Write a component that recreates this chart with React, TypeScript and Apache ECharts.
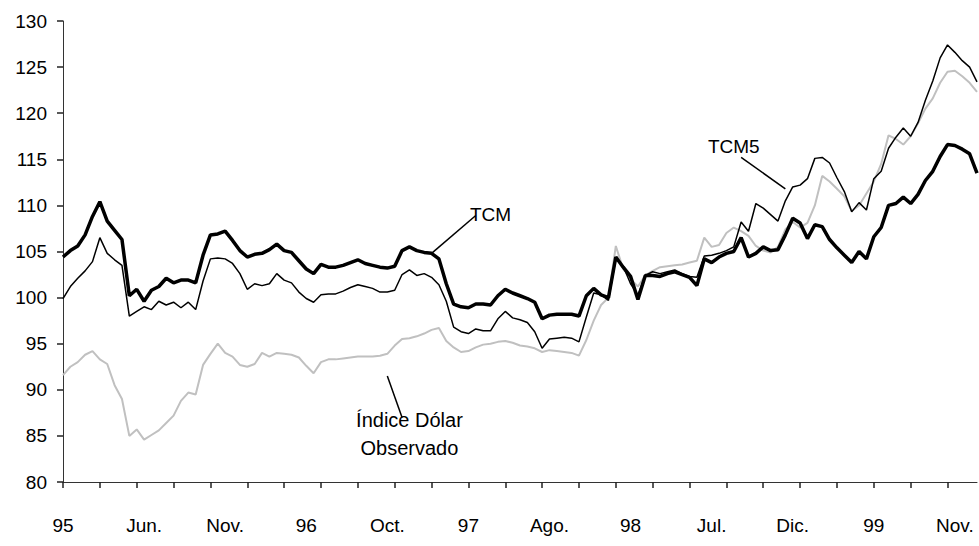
import React, { useEffect, useRef } from "react";
import * as echarts from "echarts";

// x-axis tick labels, one every LABEL_STEP categories
const tickLabels = ["95", "Jun.", "Nov.", "96", "Oct.", "97", "Ago.", "98", "Jul.", "Dic.", "99", "Nov."];
const LABEL_STEP = 11;
const TICK_STEP = 5;

// TCM (thick black)
const tcm = [
  104.4, 105.1, 105.6, 106.8, 108.8, 110.4, 108.3, 107.3, 106.3, 100.2,
  100.9, 99.6, 100.8, 101.2, 102.1, 101.6, 101.9, 101.9, 101.6, 104.6,
  106.8, 106.9, 107.2, 106.2, 105.1, 104.4, 104.7, 104.8, 105.2, 105.8,
  105.1, 104.9, 104.0, 103.1, 102.6, 103.6, 103.3, 103.3, 103.5, 103.8,
  104.1, 103.7, 103.5, 103.3, 103.2, 103.4, 105.1, 105.5, 105.1, 104.9,
  104.8, 104.2, 101.5, 99.3, 99.0, 98.9, 99.3, 99.3, 99.2, 100.2,
  100.9, 100.5, 100.2, 99.9, 99.5, 97.7, 98.1, 98.2, 98.2, 98.2,
  98.0, 100.2, 101.0, 100.3, 100.0, 104.4, 103.3, 102.3, 99.8, 102.4,
  102.4, 102.3, 102.6, 102.8, 102.5, 102.2, 101.3, 104.2, 103.8, 104.4,
  104.8, 105.0, 106.5, 104.4, 104.8, 105.5, 105.1, 105.2, 106.8, 108.6,
  108.1, 106.4, 107.9, 107.7, 106.3, 105.4, 104.6, 103.8, 105.0, 104.2,
  106.6, 107.6, 110.0, 110.2, 110.9, 110.2, 111.2, 112.7, 113.7, 115.3,
  116.6, 116.5, 116.1, 115.6, 113.5,
];

// TCM5 (thin black)
const tcm5 = [
  99.9, 101.2, 102.1, 102.9, 103.9, 106.5, 104.8, 104.1, 103.5, 98.0,
  98.5, 99.0, 98.7, 99.6, 99.2, 99.5, 98.9, 99.5, 98.7, 101.8,
  104.2, 104.3, 104.2, 103.7, 102.6, 100.9, 101.5, 101.3, 101.5, 102.6,
  101.9, 101.6, 100.6, 99.9, 99.5, 100.3, 100.4, 100.4, 100.7, 101.1,
  101.4, 101.2, 101.0, 100.6, 100.6, 100.8, 102.5, 103.0, 102.4, 102.6,
  102.2, 101.4, 99.6, 96.8, 96.3, 96.1, 96.6, 96.4, 96.4, 97.7,
  98.5, 97.8, 97.6, 97.3, 96.3, 94.5, 95.5, 95.6, 95.7, 95.6,
  95.2, 97.9, 100.5, 100.3, 99.7, 104.2, 103.4, 101.5, 100.3, 102.4,
  102.8, 102.6, 102.8, 103.0, 102.6, 102.3, 102.2, 104.5, 104.6, 104.8,
  105.1, 105.5, 108.2, 107.2, 110.2, 109.7, 109.0, 108.3, 110.5, 112.0,
  112.2, 112.9, 115.1, 115.2, 114.6, 113.0, 111.5, 109.3, 110.3, 109.5,
  112.9, 113.7, 116.2, 117.4, 118.4, 117.5, 119.0, 121.4, 123.5, 126.0,
  127.4, 126.6, 125.7, 125.0, 123.4,
];

// Índice Dólar Observado (grey)
const dolar = [
  91.6, 92.5, 93.0, 93.8, 94.2, 93.3, 92.8, 90.5, 89.0, 85.0,
  85.7, 84.6, 85.1, 85.6, 86.4, 87.2, 88.8, 89.7, 89.5, 92.7,
  93.9, 95.0, 94.0, 93.6, 92.7, 92.5, 92.8, 94.0, 93.6, 94.0,
  93.9, 93.8, 93.5, 92.6, 91.8, 93.0, 93.3, 93.3, 93.4, 93.5,
  93.6, 93.6, 93.6, 93.7, 93.9, 94.8, 95.5, 95.6, 95.8, 96.1,
  96.5, 96.7, 95.3, 94.6, 94.1, 94.2, 94.6, 94.9, 95.0, 95.2,
  95.3, 95.1, 94.8, 94.7, 94.5, 94.1, 94.3, 94.2, 94.1, 94.0,
  93.7, 95.4, 97.5, 99.2, 100.0, 105.6, 103.1, 102.0, 101.2, 102.4,
  102.9, 103.3, 103.4, 103.5, 103.6, 103.8, 104.0, 106.5, 105.5, 105.7,
  107.0, 107.6, 107.2, 106.7, 105.6, 105.1, 104.9, 105.5, 107.4, 108.2,
  107.6, 108.1, 110.0, 113.2, 112.6, 111.8, 111.0, 109.4, 110.0, 111.3,
  112.6, 114.5, 117.6, 117.2, 116.6, 117.5, 118.9, 120.5, 121.6, 123.3,
  124.5, 124.6, 124.0, 123.3, 122.3,
];

const categories = tcm.map((_, i) => String(i));

const FONT = "'Liberation Sans', Arial, Helvetica, sans-serif";

export default function App() {
  const ref = useRef<HTMLDivElement>(null);

  useEffect(() => {
    document.body.style.margin = "0";
    const chart = echarts.init(ref.current!, null, { renderer: "svg" });
    chart.setOption({
      animation: false,
      backgroundColor: "#ffffff",
      textStyle: { fontFamily: FONT },
      grid: { left: 63, right: 2, top: 21, bottom: 64, containLabel: false },
      xAxis: {
        type: "category",
        data: categories,
        boundaryGap: false,
        axisLine: { show: true, lineStyle: { color: "#333", width: 1 } },
        axisTick: {
          show: true,
          interval: TICK_STEP - 1,
          length: 6,
          lineStyle: { color: "#222", width: 1.5 },
        },
        axisLabel: {
          interval: LABEL_STEP - 1,
          margin: 34,
          fontSize: 19,
          color: "#000",
          fontFamily: FONT,
          formatter: (_v: string, idx: number) =>
            idx % LABEL_STEP === 0 ? tickLabels[idx / LABEL_STEP] ?? "" : "",
        },
        splitLine: { show: false },
      },
      yAxis: {
        type: "value",
        min: 80,
        max: 130,
        interval: 5,
        axisLine: { show: true, lineStyle: { color: "#333", width: 1 } },
        axisTick: { show: true, length: 6, lineStyle: { color: "#222", width: 1.5 } },
        axisLabel: { margin: 16, fontSize: 19, color: "#000", fontFamily: FONT },
        splitLine: { show: false },
      },
      series: [
        {
          name: "Índice Dólar Observado",
          type: "line",
          data: dolar,
          showSymbol: false,
          symbol: "none",
          lineStyle: { color: "#c0c0c0", width: 2 },
          z: 1,
        },
        {
          name: "TCM5",
          type: "line",
          data: tcm5,
          showSymbol: false,
          symbol: "none",
          lineStyle: { color: "#000", width: 1.5 },
          z: 2,
        },
        {
          name: "TCM",
          type: "line",
          data: tcm,
          showSymbol: false,
          symbol: "none",
          lineStyle: { color: "#000", width: 3.5 },
          z: 3,
        },
      ],
    });

    const px = (i: number, v: number) =>
      chart.convertToPixel({ xAxisIndex: 0, yAxisIndex: 0 }, [i, v]) as number[];

    const textStyle = (text: string, size: number) => ({
      text,
      fill: "#000",
      font: `${size}px ${FONT}`,
      align: "center",
      verticalAlign: "middle",
    });

    const tcmLbl = px(58.1, 109.05);
    const tcmA = px(56.0, 108.9);
    const tcmB = px(49.9, 104.8);
    const t5Lbl = px(91.3, 116.4);
    const t5A = px(92.3, 115.2);
    const t5B = px(98.4, 111.8);
    const d1 = px(47.2, 86.7);
    const d2 = px(47.4, 83.7);
    const dA = px(43.8, 91.5);
    const dB = px(45.6, 87.0);

    chart.setOption({
      graphic: [
        { type: "line", shape: { x1: tcmA[0], y1: tcmA[1], x2: tcmB[0], y2: tcmB[1] }, style: { stroke: "#000", lineWidth: 1.5 } },
        { type: "text", x: tcmLbl[0], y: tcmLbl[1], style: textStyle("TCM", 19) },
        { type: "line", shape: { x1: t5A[0], y1: t5A[1], x2: t5B[0], y2: t5B[1] }, style: { stroke: "#000", lineWidth: 1.5 } },
        { type: "text", x: t5Lbl[0], y: t5Lbl[1], style: textStyle("TCM5", 19) },
        { type: "line", shape: { x1: dA[0], y1: dA[1], x2: dB[0], y2: dB[1] }, style: { stroke: "#000", lineWidth: 1.5 } },
        { type: "text", x: d1[0], y: d1[1], style: textStyle("Índice Dólar", 20) },
        { type: "text", x: d2[0], y: d2[1], style: textStyle("Observado", 20) },
      ],
    });

    return () => chart.dispose();
  }, []);

  return <div ref={ref} style={{ width: 979, height: 546 }} />;
}
